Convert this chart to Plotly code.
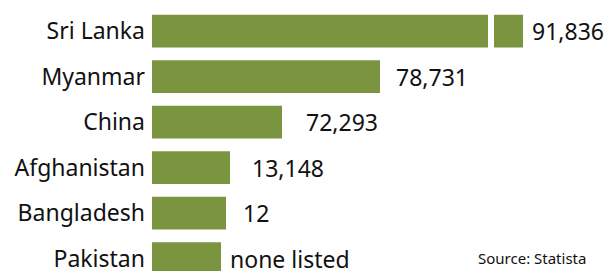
import plotly.graph_objects as go

# ---- data ----
countries = ["Sri Lanka", "Myanmar", "China", "Afghanistan", "Bangladesh", "Pakistan"]
values = [91836, 78731, 72293, 13148, 12, None]          # labelled values
# bars in the source are drawn not to scale; lengths
drawn_length = [371, 228, 130, 78, 74, 69]
source_text = "Source: Statista"

# ---- styling ----
BAR = "#7b9440"
FONT = "Noto Sans"
label_gap = [7, 14, 22, 20, 15, 7]    # px between bar end and value label
break_pos, break_width = 336, 6        # axis-break gap in the Sri Lanka bar

labels = [f"{v:,}" if v is not None else "none listed" for v in values]

fig = go.Figure(go.Bar(
    y=countries, x=drawn_length, orientation="h",
    marker=dict(color=BAR, line=dict(width=0)),
    hoverinfo="skip",
))

for c, L, t, g in zip(countries, drawn_length, labels, label_gap):
    fig.add_annotation(x=L, y=c, xref="x", yref="y", text=t, showarrow=False,
                       xanchor="left", yanchor="middle", xshift=g,
                       font=dict(family=FONT, size=23, color="#111111"))

# axis-break gap on the first bar
fig.add_shape(type="rect", xref="x", yref="y",
              x0=break_pos, x1=break_pos + break_width, y0=-0.45, y1=0.45,
              fillcolor="white", line=dict(width=0), layer="above")

fig.add_annotation(x=1, y=0, xref="paper", yref="paper", text=source_text,
                   showarrow=False, xanchor="right", yanchor="bottom",
                   xshift=-18, yshift=1,
                   font=dict(family=FONT, size=15, color="#111111"))

fig.update_layout(
    width=606, height=274,
    margin=dict(l=152, r=0, t=0, b=0),
    paper_bgcolor="white", plot_bgcolor="white",
    bargap=0.28, showlegend=False,
    font=dict(family=FONT, size=23, color="#111111"),
)
fig.update_xaxes(range=[0, 454], visible=False, fixedrange=True)
fig.update_yaxes(range=[5.272, -0.685], showgrid=False, zeroline=False,
                 showline=False, ticks="", ticklabelstandoff=6,
                 tickfont=dict(family=FONT, size=23, color="#111111"),
                 fixedrange=True)

fig.write_html("out.html", config={"displayModeBar": False},
               post_script="document.body.style.margin='0';document.body.style.overflow='hidden';")
